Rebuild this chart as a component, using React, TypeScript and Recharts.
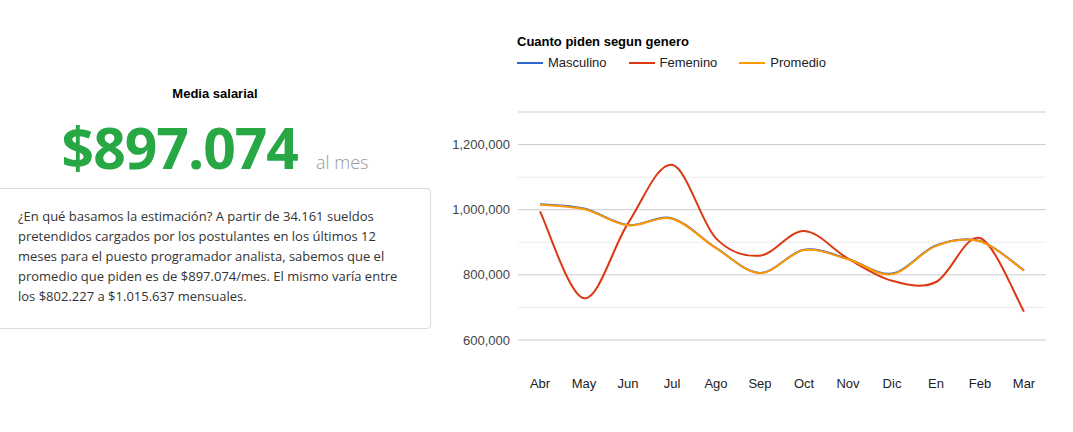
import React from "react";
import { CartesianGrid, Line, LineChart, ReferenceLine, XAxis, YAxis } from "recharts";

const months = ["Abr", "May", "Jun", "Jul", "Ago", "Sep", "Oct", "Nov", "Dic", "En", "Feb", "Mar"];
const masculino = [1017000, 1003500, 953000, 973500, 883000, 806000, 877000, 849000, 804000, 890000, 904000, 814000];
const femenino = [995000, 728000, 958000, 1138000, 912000, 859000, 935000, 850000, 782000, 778000, 913000, 687000];
const promedio = [1015637, 1002000, 952000, 972000, 882000, 805000, 876000, 848000, 802227, 889000, 903000, 813000];
const majorTicks = [600000, 800000, 1000000, 1200000];
const minorTicks = [700000, 900000, 1100000, 1300000];

const series = [
  { key: "masculino", name: "Masculino", color: "#3366cc" },
  { key: "femenino", name: "Femenino", color: "#dc3912" },
  { key: "promedio", name: "Promedio", color: "#ff9900" },
];

const data = months.map((m, i) => ({
  mes: m,
  masculino: masculino[i],
  femenino: femenino[i],
  promedio: promedio[i],
}));

// catmull-rom style smoothing, close to google's "function" curve
const smoothCurve = (ctx: any) => {
  let pts: number[][] = [];
  const k = 1 / 6;
  return {
    areaStart() {},
    areaEnd() {},
    lineStart() {
      pts = [];
    },
    point(x: number, y: number) {
      pts.push([+x, +y]);
    },
    lineEnd() {
      const n = pts.length;
      if (!n) return;
      ctx.moveTo(pts[0][0], pts[0][1]);
      for (let i = 0; i < n - 1; i++) {
        const p0 = pts[Math.max(i - 1, 0)];
        const p1 = pts[i];
        const p2 = pts[i + 1];
        const p3 = pts[Math.min(i + 2, n - 1)];
        ctx.bezierCurveTo(
          p1[0] + (p2[0] - p0[0]) * k,
          p1[1] + (p2[1] - p0[1]) * k,
          p2[0] - (p3[0] - p1[0]) * k,
          p2[1] - (p3[1] - p1[1]) * k,
          p2[0],
          p2[1]
        );
      }
    },
  };
};

const arial = "'Liberation Sans', Arial, sans-serif";
const sans = "'Open Sans', 'Noto Sans', sans-serif";

function ChartLegend() {
  return (
    <div style={{ display: "flex", fontFamily: arial, fontSize: 13, color: "#222" }}>
      {series.map((s) => (
        <div key={s.key} style={{ display: "flex", alignItems: "center", marginRight: 22 }}>
          <span style={{ display: "inline-block", width: 26, height: 2, background: s.color, marginRight: 5 }} />
          {s.name}
        </div>
      ))}
    </div>
  );
}

export default function App() {
  return (
    <div style={{ position: "relative", width: 1073, height: 432, background: "#fff", overflow: "hidden" }}>
      <style>{"body{margin:0}"}</style>
      <div
        style={{
          position: "absolute",
          left: 0,
          top: 86,
          width: 430,
          textAlign: "center",
          fontFamily: arial,
          fontWeight: "bold",
          fontSize: 13,
          color: "#000",
        }}
      >
        Media salarial
      </div>
      <div
        style={{
          position: "absolute",
          left: 0,
          top: 108,
          width: 430,
          display: "flex",
          justifyContent: "center",
          alignItems: "baseline",
          fontFamily: sans,
        }}
      >
        <span style={{ fontSize: 57, fontWeight: 700, color: "#28a745", letterSpacing: -1 }}>$897.074</span>
        <span style={{ fontSize: 18, fontWeight: 300, color: "#999", marginLeft: 18 }}>al mes</span>
      </div>
      <div
        style={{
          position: "absolute",
          left: -12,
          top: 188,
          width: 443,
          height: 141,
          boxSizing: "border-box",
          border: "1px solid #dcdcdc",
          borderRadius: 4,
          padding: "17px 0 0 29px",
          fontFamily: sans,
          fontSize: 13,
          lineHeight: "20px",
          color: "#333",
        }}
      >
        ¿En qué basamos la estimación? A partir de 34.161 sueldos
        <br />
        pretendidos cargados por los postulantes en los últimos 12
        <br />
        meses para el puesto programador analista, sabemos que el
        <br />
        promedio que piden es de $897.074/mes. El mismo varía entre
        <br />
        los $802.227 a $1.015.637 mensuales.
      </div>

      <div
        style={{
          position: "absolute",
          left: 517,
          top: 34,
          fontFamily: arial,
          fontWeight: "bold",
          fontSize: 13,
          color: "#000",
        }}
      >
        Cuanto piden segun genero
      </div>
      <div style={{ position: "absolute", left: 517, top: 55 }}>
        <ChartLegend />
      </div>

      <div style={{ position: "absolute", left: 430, top: 100 }}>
        <LineChart width={630} height={300} data={data} margin={{ top: 12, right: 14, bottom: 0, left: 0 }}>
          {minorTicks.map((t) => (
            <ReferenceLine key={t} y={t} stroke="#ebebeb" strokeWidth={1} />
          ))}
          <CartesianGrid vertical={false} stroke="#cccccc" />
          <XAxis
            dataKey="mes"
            axisLine={false}
            tickLine={false}
            tickMargin={33}
            height={60}
            padding={{ left: 22, right: 22 }}
            tick={{ fill: "#222", fontSize: 13, fontFamily: arial }}
            interval={0}
          />
          <YAxis
            domain={[600000, 1300000]}
            ticks={majorTicks}
            axisLine={false}
            tickLine={false}
            width={88}
            tick={{ fill: "#444", fontSize: 13, fontFamily: arial }}
            tickFormatter={(v: number) => v.toLocaleString("en-US")}
          />
          {series.map((s) => (
            <Line
              key={s.key}
              dataKey={s.key}
              name={s.name}
              type={smoothCurve as any}
              stroke={s.color}
              strokeWidth={2}
              dot={false}
              activeDot={false}
              isAnimationActive={false}
            />
          ))}
        </LineChart>
      </div>
    </div>
  );
}
